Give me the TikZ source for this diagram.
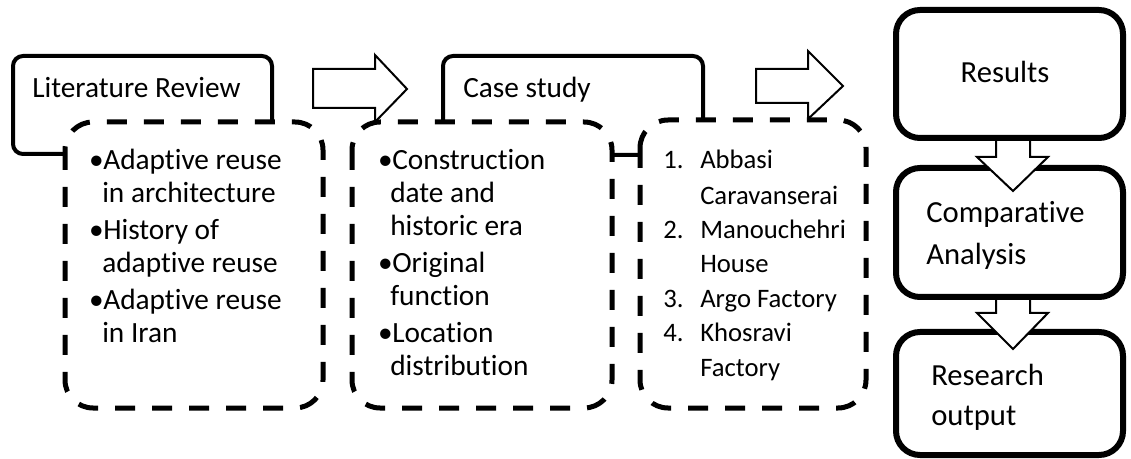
\documentclass[tikz,border=0pt]{standalone}
\usepackage{fontspec}
\setmainfont{Carlito}[Ligatures={NoCommon}]
\begin{document}
\begin{tikzpicture}[x=0.75pt,y=-0.75pt,
  solidbox/.style={line width=3pt, rounded corners=7.5pt, fill=white},
  dashbox/.style={line width=3.75pt, dash pattern=on 15pt off 12.75pt, rounded corners=21pt, fill=white},
  rightbox/.style={line width=4.5pt, rounded corners=18pt, fill=white},
  blockarrow/.style={line width=1.5pt, fill=white, line join=miter},
  txt/.style={inner sep=0pt, anchor=base west, font=\fontsize{22pt}{26pt}\selectfont},
  bul/.style={txt, anchor=base east},
  smalltxt/.style={txt, font=\fontsize{20pt}{24pt}\selectfont},
  bigtxt/.style={txt, font=\fontsize{23pt}{27pt}\selectfont}]
\useasboundingbox (0,0) rectangle (1131,459);
% solid header boxes (behind)
\draw[solidbox] (13,56) rectangle (272,154);
\draw[solidbox] (443,56) rectangle (703,155);
\node[txt] (lit) at (32,98) {Literature Review};
\node[txt] (case) at (463,98) {Case study};
% dashed boxes
\draw[dashbox] (65,122) rectangle (323,408);
\draw[dashbox] (352,122) rectangle (612,408);
\draw[dashbox] (640,120) rectangle (866,408);
% block arrows right
\draw[blockarrow] (313,69) -- (375,69) -- (375,55) -- (407,89) -- (375,122) -- (375,108) -- (313,108) -- cycle;
\draw[blockarrow] (756,69) -- (808,69) -- (808,51) -- (843,86) -- (808,119) -- (808,103) -- (756,103) -- cycle;
% box 1 text
\node[bul] (b1a) at (104,170) {\textbullet};
\node[txt] (l1a) at (103,170) {Adaptive reuse};
\node[txt] (l1b) at (102,203) {in architecture};
\node[bul] (b1c) at (104,240) {\textbullet};
\node[txt] (l1c) at (103,240) {History of};
\node[txt] (l1d) at (102,273) {adaptive reuse};
\node[bul] (b1e) at (104,310) {\textbullet};
\node[txt] (l1e) at (103,310) {Adaptive reuse};
\node[txt] (l1f) at (102,343) {in Iran};
% box 2 text
\node[bul] (b2a) at (393,170) {\textbullet};
\node[txt] (l2a) at (392,170) {Construction};
\node[txt] (l2b) at (390,203) {date and};
\node[txt] (l2c) at (390,236) {historic era};
\node[bul] (b2d) at (393,273) {\textbullet};
\node[txt] (l2d) at (392,273) {Original};
\node[txt] (l2e) at (390,306) {function};
\node[bul] (b2f) at (393,343) {\textbullet};
\node[txt] (l2f) at (392,343) {Location};
\node[txt] (l2g) at (390,376) {distribution};
% box 3 text
\node[smalltxt] (n1) at (663,169) {1.};
\node[smalltxt] (l3a) at (700,169) {Abbasi};
\node[smalltxt] (l3b) at (700,205) {Caravanserai};
\node[smalltxt] (n2) at (663,239) {2.};
\node[smalltxt] (l3c) at (700,239) {Manouchehri};
\node[smalltxt] (l3d) at (700,273) {House};
\node[smalltxt] (n3) at (663,308) {3.};
\node[smalltxt] (l3e) at (700,308) {Argo Factory};
\node[smalltxt] (n4) at (663,342) {4.};
\node[smalltxt] (l3f) at (700,342) {Khosravi};
\node[smalltxt] (l3g) at (700,377) {Factory};
% right column
\draw[rightbox] (896,10) rectangle (1123,138);
\draw[rightbox] (896,168) rectangle (1123,297);
\draw[rightbox] (896,332) rectangle (1123,455);
\node[bigtxt, anchor=base] (res) at (1005,83) {Results};
\node[bigtxt] (comp1) at (926,223) {Comparative};
\node[bigtxt] (comp2) at (926,265) {Analysis};
\node[bigtxt] (out1) at (931,385) {Research};
\node[bigtxt] (out2) at (931,425) {output};
% down arrows
\draw[blockarrow] (996,140) -- (996,157) -- (977,157) -- (1013,191) -- (1048,157) -- (1030,157) -- (1030,140) -- cycle;
\draw[blockarrow] (996,299) -- (996,313) -- (977,313) -- (1013,349) -- (1048,313) -- (1030,313) -- (1030,299) -- cycle;
\end{tikzpicture}
\end{document}
